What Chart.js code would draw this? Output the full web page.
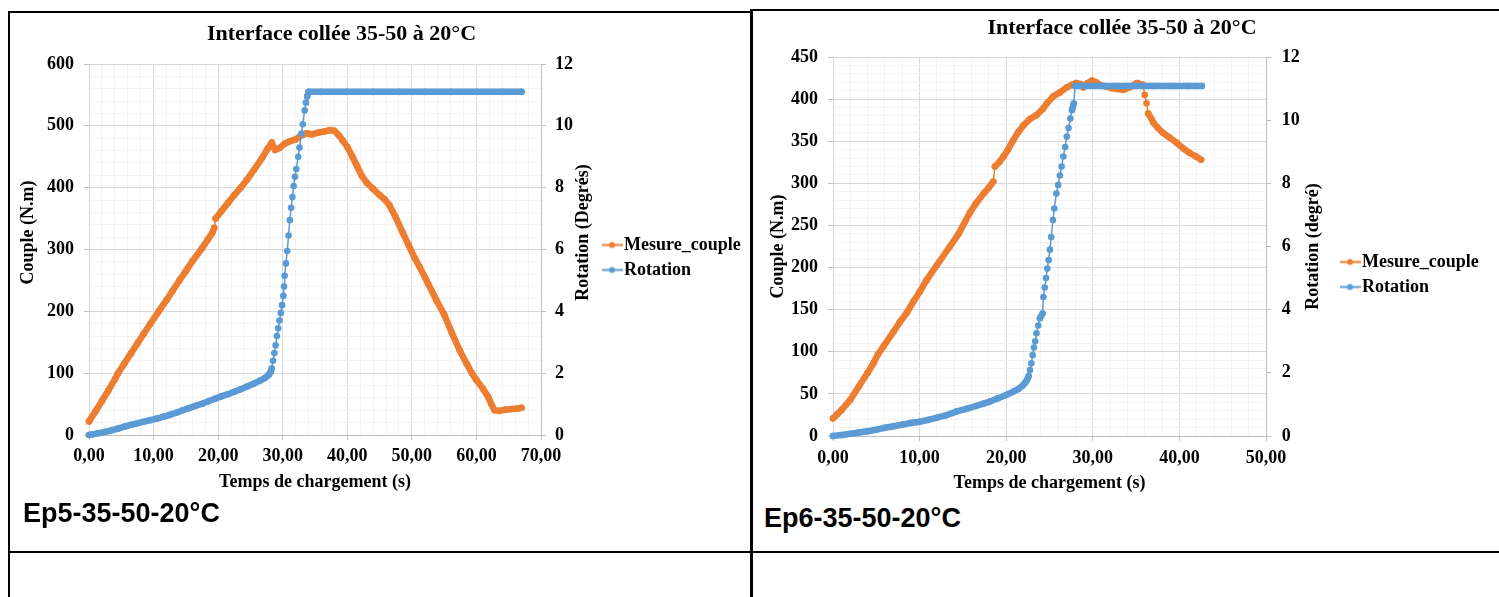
<!DOCTYPE html>
<html lang="fr">
<head>
<meta charset="utf-8">
<title>Interface collée 35-50 à 20°C</title>
<script src="https://cdn.jsdelivr.net/npm/chart.js@4/dist/chart.umd.min.js"></script>
<style>
  body { margin: 0; width: 1499px; height: 597px; background: #fff; position: relative; overflow: hidden; }
  .trait { position: absolute; background: #000; }
  canvas { position: absolute; }
  .essai { position: absolute; font: bold 27px "Liberation Sans", Arial, sans-serif; color: #000; white-space: nowrap; }
</style>
</head>
<body>
<canvas id="graphe5" width="736" height="490" style="left:12px; top:13px;"></canvas>
<canvas id="graphe6" width="744" height="490" style="left:754px; top:10px;"></canvas>

<div class="essai" style="left:23px; top:498px;">Ep5-35-50-20°C</div>
<div class="essai" style="left:764px; top:503px;">Ep6-35-50-20°C</div>

<!-- cadre du tableau -->
<div class="trait" style="left:8px; top:11px; width:2px; height:586px;"></div>
<div class="trait" style="left:8px; top:11px; width:744px; height:2px;"></div>
<div class="trait" style="left:750px; top:9px; width:749px; height:2px;"></div>
<div class="trait" style="left:750px; top:9px; width:3px; height:588px;"></div>
<div class="trait" style="left:8px; top:551px; width:1491px; height:2px;"></div>

<script>
// Valeurs
// Ep5 : couple (N.m) et rotation (degrés) selon le temps (s)
const tempsCouple5 = [0, 1, 2, 3, 4, 4.5, 5.5, 6.5, 7.5, 8.5, 9.5, 10.8, 12, 13, 14, 15, 16, 17.5, 18.4, 19.1, 19.4, 19.6, 20.5, 21.5, 22.5, 23.5, 24.4, 25.5, 26.8, 27.6, 28.3, 28.8, 29.5, 30.3, 31.1, 32, 32.8, 33.7, 34.5, 35.5, 36.5, 37.3, 38, 38.6, 39.3, 40, 40.8, 41.5, 42.2, 43, 44, 45, 45.8, 46.5, 47.5, 48.6, 49.5, 50.5, 51.2, 52.5, 53.8, 55, 56.2, 57.4, 58.5, 59.3, 60, 61, 61.8, 62.3, 62.8, 63.5, 64.5, 65.5, 66.5, 67];
const couple5 = [22, 38, 55, 72, 90, 100, 116, 132, 148, 164, 180, 200, 218, 234, 250, 265, 281, 302, 316, 327, 335, 350, 362, 375, 388, 400, 412, 428, 448, 462, 473, 461, 464, 471, 475, 478, 484, 488, 486, 489, 491, 493, 492, 486, 476, 466, 450, 435, 420, 408, 398, 388, 381, 372, 352, 327, 307, 285, 272, 245, 218, 195, 165, 137, 115, 100, 89, 75, 62, 50, 40, 39, 41, 42, 43, 44];
const tempsRotation5 = [0, 0.5, 1.5, 2.5, 3.5, 4.5, 5.5, 6.5, 7.5, 8.5, 9.5, 10.5, 11.5, 12.5, 13.5, 14.5, 15.5, 16.5, 17.5, 18.5, 19.5, 20.5, 21.5, 22.5, 23.5, 24.5, 25.5, 26.5, 27.3, 27.8, 28.1, 28.3, 28.5, 28.7, 28.9, 29.1, 29.3, 29.5, 29.7, 29.9, 30.1, 30.2, 30.3, 30.5, 30.7, 30.9, 31.1, 31.3, 31.5, 31.7, 31.9, 32.1, 32.4, 32.6, 32.9, 33.1, 33.4, 33.6, 33.8, 34, 36, 40, 44, 48, 52, 56, 60, 64, 67];
const rotation5 = [0, 0.02, 0.06, 0.1, 0.15, 0.21, 0.27, 0.33, 0.38, 0.43, 0.48, 0.53, 0.59, 0.65, 0.72, 0.8, 0.87, 0.94, 1.01, 1.09, 1.17, 1.25, 1.32, 1.4, 1.48, 1.57, 1.66, 1.76, 1.85, 1.94, 2.03, 2.15, 2.4, 2.65, 2.9, 3.2, 3.45, 3.7, 3.95, 4.2, 4.5, 4.8, 5.15, 5.55, 5.95, 6.45, 6.95, 7.35, 7.7, 8.05, 8.35, 8.6, 9.0, 9.3, 9.75, 10.05, 10.5, 10.75, 10.95, 11.1, 11.1, 11.1, 11.1, 11.1, 11.1, 11.1, 11.1, 11.1, 11.1];

// Ep6
const tempsCouple6 = [0, 0.5, 1, 2, 3, 4, 4.7, 5.2, 5.8, 7, 7.7, 8.5, 9.3, 10, 10.8, 12, 13.5, 14.5, 15.8, 16.5, 17.4, 18, 18.5, 18.7, 19.2, 19.7, 20.2, 20.8, 21.4, 22, 22.7, 23.5, 24.2, 24.7, 25.4, 26.2, 27, 27.6, 28.1, 28.6, 28.9, 29.4, 29.9, 30.4, 30.8, 31.5, 32.2, 32.8, 33.5, 34.3, 35.1, 35.8, 36, 36.2, 36.4, 37, 37.5, 38.1, 38.9, 39.7, 40.5, 41.2, 41.9, 42.5];
const couple6 = [21, 26, 31, 43, 59, 75, 87, 97, 106, 124, 135, 146, 160, 171, 185, 203, 225, 240, 265, 276, 288, 295, 302, 320, 325, 332, 340, 351, 361, 369, 376, 381, 388, 395, 403, 408, 414, 417, 419, 418, 414, 419, 422, 420, 417, 415, 413, 412, 411, 414, 419, 417, 405, 395, 383, 372, 366, 360, 354, 348, 341, 336, 332, 328];
const tempsRotation6 = [0, 1, 2, 3, 4, 5, 6, 7, 8, 9, 10, 11, 12, 13, 14.3, 15.5, 16.5, 17.3, 18.1, 19, 20, 20.8, 21.4, 21.9, 22.2, 22.4, 22.6, 22.75, 22.9, 23.06, 23.2, 23.35, 23.5, 23.7, 23.9, 24.2, 24.3, 24.45, 24.6, 24.75, 24.9, 25.05, 25.2, 25.4, 25.55, 25.8, 26, 26.2, 26.4, 26.6, 26.8, 27, 27.2, 27.4, 27.6, 27.8, 27.95, 29, 31, 33, 35, 37, 39, 41, 42.6];
const rotation6 = [0, 0.03, 0.07, 0.11, 0.15, 0.2, 0.26, 0.31, 0.36, 0.41, 0.45, 0.51, 0.58, 0.65, 0.78, 0.87, 0.95, 1.02, 1.09, 1.19, 1.3, 1.4, 1.49, 1.6, 1.69, 1.77, 1.9, 2.09, 2.3, 2.56, 2.8, 3.0, 3.25, 3.5, 3.73, 3.88, 4.4, 4.7, 5.0, 5.3, 5.57, 5.9, 6.3, 6.84, 7.2, 7.68, 7.95, 8.25, 8.53, 8.85, 9.15, 9.48, 9.75, 10.05, 10.32, 10.53, 11.08, 11.08, 11.08, 11.08, 11.08, 11.08, 11.08, 11.08, 11.08];

const titreGraphe = 'Interface collée 35-50 à 20°C';
const nomsSeries = ['Mesure_couple', 'Rotation'];
const titreTemps = 'Temps de chargement (s)';
const titreCouple = 'Couple (N.m)';

const police = "'Liberation Serif', 'Times New Roman', serif";
const orange = '#ED7D31';
const bleu = '#5B9BD5';

// petit trait + point pour la légende, comme dans Excel
function icone(couleur) {
  const c = document.createElement('canvas');
  c.width = 21; c.height = 9;
  const g = c.getContext('2d');
  g.strokeStyle = couleur; g.lineWidth = 2;
  g.beginPath(); g.moveTo(0, 4.5); g.lineTo(21, 4.5); g.stroke();
  g.fillStyle = couleur;
  g.beginPath(); g.arc(10.5, 4.5, 3, 0, 2 * Math.PI); g.fill();
  return c;
}
const icones = [icone(orange), icone(bleu)];

// les marqueurs serrés forment un trait épais, sauf dans les montées raides
const epaisseur = ctx => {
  const dx = Math.abs(ctx.p1.x - ctx.p0.x);
  const dy = Math.abs(ctx.p1.y - ctx.p0.y);
  return dy > 3 * dx + 2 ? 1.5 : 6.5;
};

function serie(label, temps, valeurs, couleur, axe, ordre) {
  return {
    label, yAxisID: axe, order: ordre,
    data: temps.map((t, i) => ({x: t, y: valeurs[i]})),
    borderColor: couleur, backgroundColor: couleur,
    pointRadius: 3.3, pointBorderWidth: 0, pointHoverRadius: 3.3,
    borderCapStyle: 'round', borderJoinStyle: 'round',
    segment: {borderWidth: epaisseur},
    tension: 0, fill: false, clip: 8
  };
}

// réglages de mise en page : largeur de légende, titre, titres verticaux
const cadre = {
  id: 'cadre',
  beforeLayout(chart, args, o) {
    const leg = chart.legend;
    if (leg && !leg._largeurFixe) {
      const fitOrig = leg.fit;
      leg.fit = function () { fitOrig.call(this); this.width = o.largeurLegende; };
      leg._largeurFixe = true;
    }
  },
  afterLayout(chart, args, o) {
    const t = chart.titleBlock;
    t.left = o.centreTitre - 320;
    t.right = o.centreTitre + 320;
    const leg = chart.legend;
    leg.left = o.legende[0];
    leg.top = o.legende[1] - 100;
    leg.bottom = o.legende[1] + 100;
  },
  afterDraw(chart, args, o) {
    const ctx = chart.ctx;
    const milieu = (chart.chartArea.top + chart.chartArea.bottom) / 2 + o.decalageTitres;
    ctx.save();
    ctx.font = 'bold 18px ' + police;
    ctx.fillStyle = '#000';
    ctx.textAlign = 'center';
    ctx.textBaseline = 'middle';
    o.titresY.forEach(([texte, x]) => {
      ctx.save();
      ctx.translate(x, milieu);
      ctx.rotate(-Math.PI / 2);
      ctx.fillText(texte, 0, 0);
      ctx.restore();
    });
    ctx.restore();
  }
};

function graphe(id, p) {
  const majeur = (v, pas) => Math.abs(v / pas - Math.round(v / pas)) < 1e-6;
  const fonte = {family: police, size: 18, weight: 'bold'};
  return new Chart(document.getElementById(id), {
    type: 'line',
    data: {
      datasets: [
        serie(nomsSeries[0], p.tempsCouple, p.couple, orange, 'y', 1),
        serie(nomsSeries[1], p.tempsRotation, p.rotation, bleu, 'y1', 0)
      ]
    },
    options: {
      responsive: false,
      animation: false,
      events: [],
      scales: {
        x: {
          type: 'linear', min: 0, max: p.xMax,
          ticks: {
            stepSize: 2, autoSkip: false, maxRotation: 0, padding: p.xPad, color: '#000', font: fonte,
            callback: v => majeur(v, 10) ? v.toFixed(2).replace('.', ',') : ''
          },
          grid: {
            color: c => c.tick && majeur(c.tick.value, 10) ? '#d9d9d9' : '#f2f2f2',
            tickColor: c => c.tick && majeur(c.tick.value, 10) ? '#bfbfbf' : 'rgba(0,0,0,0)',
            tickLength: 5
          },
          border: {color: '#bfbfbf'},
          title: {display: true, text: titreTemps, color: '#000', font: fonte, padding: {top: 0, bottom: p.xTitrePad}},
          afterFit: s => { s.height = p.hauteurX; }
        },
        y: {
          position: 'left', min: 0, max: p.yMax,
          ticks: {
            stepSize: p.yPasMineur, autoSkip: false, padding: 10, color: '#000', font: fonte,
            callback: v => majeur(v, p.yPas) ? v : ''
          },
          grid: {
            color: c => c.tick && majeur(c.tick.value, p.yPas) ? '#d9d9d9' : '#f2f2f2',
            tickColor: c => c.tick && majeur(c.tick.value, p.yPas) ? '#bfbfbf' : 'rgba(0,0,0,0)',
            tickLength: 5
          },
          border: {color: '#d9d9d9'},
          afterFit: s => { s.width = p.largeurY; }
        },
        y1: {
          position: 'right', min: 0, max: 12,
          ticks: {stepSize: 2, padding: p.y1Pad, color: '#000', font: fonte},
          grid: {drawOnChartArea: false, tickLength: 5, tickColor: '#bfbfbf'},
          border: {color: '#bfbfbf'},
          afterFit: s => { s.width = 60; }
        }
      },
      plugins: {
        tooltip: {enabled: false},
        title: {display: true, text: titreGraphe, color: '#000', font: {...fonte, size: 22}, padding: p.titrePad},
        legend: {
          position: 'right', align: 'center',
          labels: {
            usePointStyle: true, pointStyleWidth: 6, padding: 7, color: '#000', font: fonte,
            sort: (a, b) => a.datasetIndex - b.datasetIndex,
            generateLabels: chart => Chart.defaults.plugins.legend.labels.generateLabels(chart)
              .map(it => Object.assign(it, {pointStyle: icones[it.datasetIndex]}))
          }
        },
        cadre: {
          largeurLegende: p.largeurLegende,
          centreTitre: p.centreTitre,
          legende: p.legende,
          titresY: p.titresY,
          decalageTitres: p.decalageTitres
        }
      }
    },
    plugins: [cadre]
  });
}

graphe('graphe5', {
  tempsCouple: tempsCouple5, couple: couple5, tempsRotation: tempsRotation5, rotation: rotation5,
  xMax: 70, yMax: 600, yPas: 100, yPasMineur: 20,
  hauteurX: 68, xPad: 6, xTitrePad: 10, largeurY: 77, y1Pad: 9,
  titrePad: {top: 8.6, bottom: 16}, largeurLegende: 147, centreTitre: 329.5,
  legende: [590, 244.5], titresY: [[titreCouple, 16.3], ['Rotation (Degrés)', 571.3]], decalageTitres: -17
});

graphe('graphe6', {
  tempsCouple: tempsCouple6, couple: couple6, tempsRotation: tempsRotation6, rotation: rotation6,
  xMax: 50, yMax: 450, yPas: 50, yPasMineur: 10,
  hauteurX: 64, xPad: 7, xTitrePad: 5.8, largeurY: 79, y1Pad: 10.7,
  titrePad: {top: 5.1, bottom: 15.5}, largeurLegende: 172, centreTitre: 368,
  legende: [586, 264.5], titresY: [[titreCouple, 24.3], ['Rotation (degré)', 559]], decalageTitres: 0
});
</script>
</body>
</html>
